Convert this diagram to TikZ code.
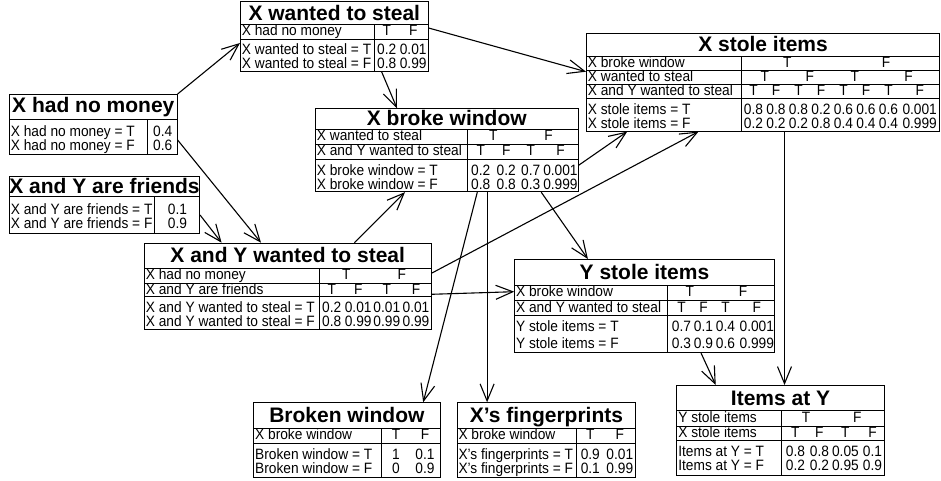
\documentclass[tikz,border=0pt]{standalone}
\usepackage{fontspec}
\setmainfont{Liberation Sans}
\newfontfamily\bodyfont[FakeStretch=0.915]{Liberation Sans}
\usepackage{array}
\usetikzlibrary{arrows.meta,calc}
\newcolumntype{P}[1]{@{\hspace{1.5pt}}w{l}{#1pt}@{}}
\newcolumntype{V}[1]{@{}w{c}{#1pt}@{}}
\newcommand\St[2]{\rule[-#2pt]{0pt}{\dimexpr#1pt+#2pt\relax}}
\newcommand\mcol[2]{\multicolumn{#1}{@{}c@{}}{#2}}
\newcommand\ttl{\fontsize{21}{21}\selectfont\rmfamily\bfseries}
\setlength\tabcolsep{0pt}
\setlength\arrayrulewidth{0.8pt}
\renewcommand\arraystretch{0}
\begin{document}
\begin{tikzpicture}[x=1pt,y=-1pt,
  cpt/.style={draw,line width=0.8pt,inner sep=0pt,anchor=north west,font={\bodyfont\fontsize{15}{15}\selectfont}},
  arr/.style={line width=1.1pt,-{Straight Barb[length=17pt,width=14pt]}}]
\useasboundingbox (0,0) rectangle (941,481);

\node[cpt] (A) at (9,94) {\begin{tabular}{P{136.5}|V{29}}
\mcol{2}{\St{18}{7}\ttl X had no money}\\\hline
\St{16}{3}X had no money = T & 0.4\\
\St{11}{4}X had no money = F & 0.6
\end{tabular}};

\node[cpt] (B) at (240,1) {\begin{tabular}{P{132.5}|V{23}V{30}}
\mcol{3}{\St{19.5}{3.2}\ttl X wanted to steal}\\\hline
\St{10}{2.7}X had no money & T & F\\\hline
\St{14.5}{3}X wanted to steal = T & 0.2 & 0.01\\
\St{10.2}{3.5}X wanted to steal = F & 0.8 & 0.99
\end{tabular}};

\node[cpt] (C) at (9,176) {\begin{tabular}{P{143.5}|V{39}}
\mcol{2}{\St{17}{3}\ttl X and Y are friends}\\\hline
\St{17}{3}X and Y are friends = T & 0.1\\
\St{11}{4.7}X and Y are friends = F & 0.9
\end{tabular}};

\node[cpt] (D) at (315,108.3) {\begin{tabular}{P{150}|V{26}V{25}V{24}V{35.5}}
\mcol{5}{\St{17}{3.5}\ttl X broke window}\\\hline
\St{11}{3.3}X wanted to steal & \mcol{2}{T} & \mcol{2}{F}\\\hline
\St{10.7}{2.8}X and Y wanted to steal & T & F & T & F\\\hline
\St{15.6}{3}X broke window = T & 0.2 & 0.2 & 0.7 & 0.001\\
\St{11}{2.6}X broke window = F & 0.8 & 0.8 & 0.3 & 0.999
\end{tabular}};

\node[cpt] (E) at (144,242.7) {\begin{tabular}{P{173}|V{24}V{29}V{28.3}V{30}}
\mcol{5}{\St{19.8}{4.6}\ttl X and Y wanted to steal}\\\hline
\St{11}{3.2}X had no money & \mcol{2}{T} & \mcol{2}{F}\\\hline
\St{10.2}{2.2}X and Y are friends & T & F & T & F\\\hline
\St{15}{3}X and Y wanted to steal = T & 0.2 & 0.01 & 0.01 & 0.01\\
\St{11}{3.5}X and Y wanted to steal = F & 0.8 & 0.99 & 0.99 & 0.99
\end{tabular}};

\node[cpt] (F) at (514.2,259) {\begin{tabular}{P{150.9}|V{27.4}V{16.6}V{27.4}V{35.2}}
\mcol{5}{\St{20.5}{5.2}\ttl Y stole items}\\\hline
\St{11}{3.5}X broke window & \mcol{2}{T} & \mcol{2}{F}\\\hline
\St{10.2}{2.6}X and Y wanted to steal & T & F & T & F\\\hline
\St{16.5}{3}Y stole items = T & 0.7 & 0.1 & 0.4 & 0.001\\
\St{13.6}{4}Y stole items = F & 0.3 & 0.9 & 0.6 & 0.999
\end{tabular}};

\node[cpt] (G) at (676.4,385) {\begin{tabular}{P{103}|V{26.6}V{21.4}V{30.6}V{23.6}}
\mcol{5}{\St{20}{4.6}\ttl Items at Y}\\\hline
\St{11.5}{3.7}Y stole items & \mcol{2}{T} & \mcol{2}{F}\\\hline
\St{10.2}{2.1}X stole items & T & F & T & F\\\hline
\St{16}{3}Items at Y = T & 0.8 & 0.8 & 0.05 & 0.1\\
\St{11}{4.6}Items at Y = F & 0.2 & 0.2 & 0.95 & 0.9
\end{tabular}};

\node[cpt] (H) at (253.3,402.3) {\begin{tabular}{P{126}|V{28}V{30}}
\mcol{3}{\St{20}{5.2}\ttl Broken window}\\\hline
\St{11}{3.2}X broke window & T & F\\\hline
\St{16}{3}Broken window = T & 1 & 0.1\\
\St{11}{3.4}Broken window = F & 0 & 0.9
\end{tabular}};

\node[cpt] (I) at (456.6,402.3) {\begin{tabular}{P{117.5}|V{27}V{32}}
\mcol{3}{\St{20}{5.2}\ttl X’s fingerprints}\\\hline
\St{11}{3.2}X broke window & T & F\\\hline
\St{16}{3}X’s fingerprints = T & 0.9 & 0.01\\
\St{11}{3}X’s fingerprints = F & 0.1 & 0.99
\end{tabular}};

\node[cpt] (J) at (586,33) {\begin{tabular}{P{153.5}|V{22.5}V{22.5}V{22.5}V{22.5}V{22.5}V{22.5}V{22.5}V{40}}
\mcol{9}{\St{18}{4.3}\ttl X stole items}\\\hline
\St{10.2}{2.3}X broke window & \mcol{4}{T} & \mcol{4}{F}\\\hline
\St{10.2}{2.4}X wanted to steal & \mcol{2}{T} & \mcol{2}{F} & \mcol{2}{T} & \mcol{2}{F}\\\hline
\St{10.5}{2.5}X and Y wanted to steal & T & F & T & F & T & F & T & F\\\hline
\St{15.5}{3}X stole items = T & 0.8 & 0.8 & 0.8 & 0.2 & 0.6 & 0.6 & 0.6 & 0.001\\
\St{11}{3}X stole items = F & 0.2 & 0.2 & 0.2 & 0.8 & 0.4 & 0.4 & 0.4 & 0.999
\end{tabular}};

\draw[arr] (A.north east) -- ([shift={(0,42)}]B.north west);
\draw[arr] ([shift={(0,46)}]A.north east) -- ([shift={(117,0)}]E.north west);
\draw[arr] ([shift={(0,39)}]C.north east) -- ([shift={(77.6,0)}]E.north west);
\draw[arr] ([shift={(141.7,0)}]B.south west) -- ([shift={(82,0)}]D.north west);
\draw[arr] ([shift={(0,27)}]B.north east) -- ([shift={(0,38.7)}]J.north west);
\draw[arr] ([shift={(210.4,0)}]E.north west) -- ([shift={(90,0)}]D.south west);
\draw[arr] ([shift={(0,30.6)}]E.north east) -- ([shift={(112.5,0)}]J.south west);
\draw[arr] ([shift={(0,57)}]D.north east) -- ([shift={(41.2,0)}]J.south west);
\draw[arr] ([shift={(0,51.6)}]E.north east) -- ([shift={(0,32.7)}]F.north west);
\draw[arr] ([shift={(226.2,0)}]D.south west) -- ([shift={(73.7,0)}]F.north west);
\draw[arr] ([shift={(162.3,0)}]D.south west) -- ([shift={(169.9,0)}]H.north west);
\draw[arr] ([shift={(172.1,0)}]D.south west) -- ([shift={(30.5,0)}]I.north west);
\draw[arr] ([shift={(186.8,0)}]F.south west) -- ([shift={(39.3,0)}]G.north west);
\draw[arr] ([shift={(198.5,0)}]J.south west) -- ([shift={(108.1,0)}]G.north west);
\end{tikzpicture}
\end{document}
